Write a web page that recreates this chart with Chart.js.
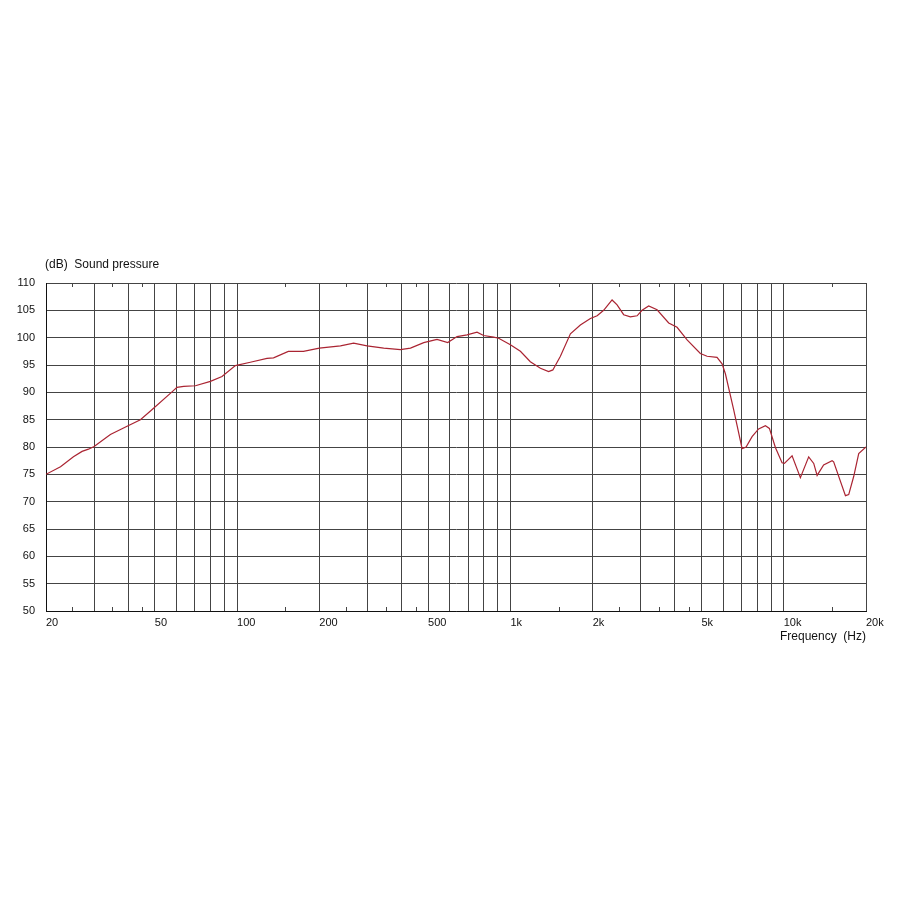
<!DOCTYPE html>
<html>
<head>
<meta charset="utf-8">
<script src="https://cdn.jsdelivr.net/npm/chart.js@4/dist/chart.umd.min.js"></script>
<style>
html, body { margin: 0; padding: 0; background: #fff; }
</style>
</head>
<body>
<canvas id="spl" width="900" height="900"></canvas>
<script>
const freqs = [20, 22.6, 25.2, 27.1, 28.6, 30, 34.4, 39.6, 44.3, 48.8,
    57, 60.3, 63.8, 70.4, 79.9, 88.1, 98.6, 111.8, 128.7, 136,
    154, 175, 200, 239, 267, 299, 344, 396, 431, 482,
    539, 590, 638, 694, 755, 798, 869, 906, 1000, 1088,
    1183, 1288, 1380, 1430, 1524, 1658, 1803, 1962, 2077, 2194,
    2355, 2457, 2597, 2748, 2908, 3032, 3206, 3441, 3795, 4072,
    4431, 4954, 5244, 5702, 5949, 6118, 6562, 7042, 7284, 7660,
    8094, 8571, 8864, 9323, 9860, 10058, 10730, 11508, 12340, 12876,
    13250, 13996, 15032, 15230, 16820, 17290, 18030, 18810, 20000];
const spl = [75.0, 76.4, 78.2, 79.2, 79.6, 80.1, 82.3, 83.8, 85.0, 86.8,
    89.8, 90.9, 91.1, 91.2, 92.0, 92.9, 94.9, 95.5, 96.2, 96.3,
    97.5, 97.5, 98.1, 98.5, 99.0, 98.5, 98.1, 97.8, 98.1, 99.1,
    99.7, 99.1, 100.2, 100.5, 101.0, 100.4, 100.1, 99.9, 98.7, 97.5,
    95.6, 94.4, 93.8, 94.1, 96.6, 100.7, 102.3, 103.5, 104.0, 105.0,
    106.9, 106.0, 104.2, 103.8, 104.0, 105.0, 105.8, 105.1, 102.7, 101.9,
    99.6, 97.1, 96.6, 96.4, 95.2, 93.4, 86.8, 79.7, 80.0, 81.9,
    83.3, 83.9, 83.4, 79.9, 77.1, 77.0, 78.4, 74.4, 78.2, 77.0,
    74.8, 76.7, 77.5, 77.3, 71.1, 71.3, 74.6, 78.8, 80.0];

const gridFreqs = [20, 30, 40, 50, 60, 70, 80, 90, 100, 200, 300, 400, 500, 600, 700, 800, 900,
    1000, 2000, 3000, 4000, 5000, 6000, 7000, 8000, 9000, 10000, 20000];
const minorFreqs = [25, 35, 45, 150, 250, 350, 450, 1500, 2500, 3500, 4500, 15000];
const xTickValues = [20, 50, 100, 200, 500, 1000, 2000, 5000, 10000, 20000];
const xTickLabels = ['20', '50', '100', '200', '500', '1k', '2k', '5k', '10k', '20k'];

const yTitle = '(dB)  Sound pressure';
const xTitle = 'Frequency  (Hz)';

const textColor = '#111';
const gridColor = '#444';
const fontFamily = '"Liberation Sans", Arial, sans-serif';

// short minor tick marks at top and bottom edge + axis captions
const extras = {
    id: 'extras',
    afterDraw(chart) {
        const c = chart.ctx;
        const a = chart.chartArea;
        const xs = chart.scales.x;
        c.save();
        c.strokeStyle = gridColor;
        c.lineWidth = 1;
        c.beginPath();
        minorFreqs.forEach(f => {
            const px = Math.round(xs.getPixelForValue(f)) + 0.5;
            c.moveTo(px, a.top);
            c.lineTo(px, a.top + 4);
            c.moveTo(px, a.bottom);
            c.lineTo(px, a.bottom - 4);
        });
        c.stroke();
        c.fillStyle = textColor;
        c.font = '12px ' + fontFamily;
        c.textBaseline = 'middle';
        c.textAlign = 'left';
        c.fillText(yTitle, a.left - 1, a.top - 18);
        c.textAlign = 'right';
        c.fillText(xTitle, a.right, a.bottom + 26);
        c.restore();
    }
};

const ctx = document.getElementById('spl').getContext('2d');
const splChart = new Chart(ctx, {
    type: 'line',
    data: {
        datasets: [{
            data: freqs.map((f, i) => ({ x: f, y: spl[i] })),
            borderColor: 'rgb(170, 36, 50)',
            borderWidth: 1.2,
            pointRadius: 0,
            tension: 0,
            fill: false
        }]
    },
    options: {
        responsive: false,
        animation: false,
        devicePixelRatio: 1,
        layout: {
            padding: { left: 0, right: 34, top: 283, bottom: 249 }
        },
        plugins: {
            legend: { display: false },
            tooltip: { enabled: false }
        },
        scales: {
            x: {
                type: 'logarithmic',
                min: 20,
                max: 20000,
                afterBuildTicks: s => { s.ticks = gridFreqs.map(v => ({ value: v })); },
                afterFit: s => { s.height = 40; },
                border: { display: true, color: '#111', width: 1 },
                grid: { color: gridColor, lineWidth: 1, drawTicks: false },
                ticks: {
                    autoSkip: false,
                    maxRotation: 0,
                    align: 'start',
                    padding: 5,
                    color: textColor,
                    font: { family: fontFamily, size: 11 },
                    callback: v => {
                        const i = xTickValues.indexOf(v);
                        return i >= 0 ? xTickLabels[i] : '';
                    }
                }
            },
            y: {
                min: 50,
                max: 110,
                afterFit: s => { s.width = 46; },
                border: { display: true, color: '#111', width: 1 },
                grid: { color: gridColor, lineWidth: 1, drawTicks: false },
                ticks: {
                    stepSize: 5,
                    padding: 11,
                    color: textColor,
                    font: { family: fontFamily, size: 11 }
                }
            }
        }
    },
    plugins: [extras]
});
</script>
</body>
</html>
